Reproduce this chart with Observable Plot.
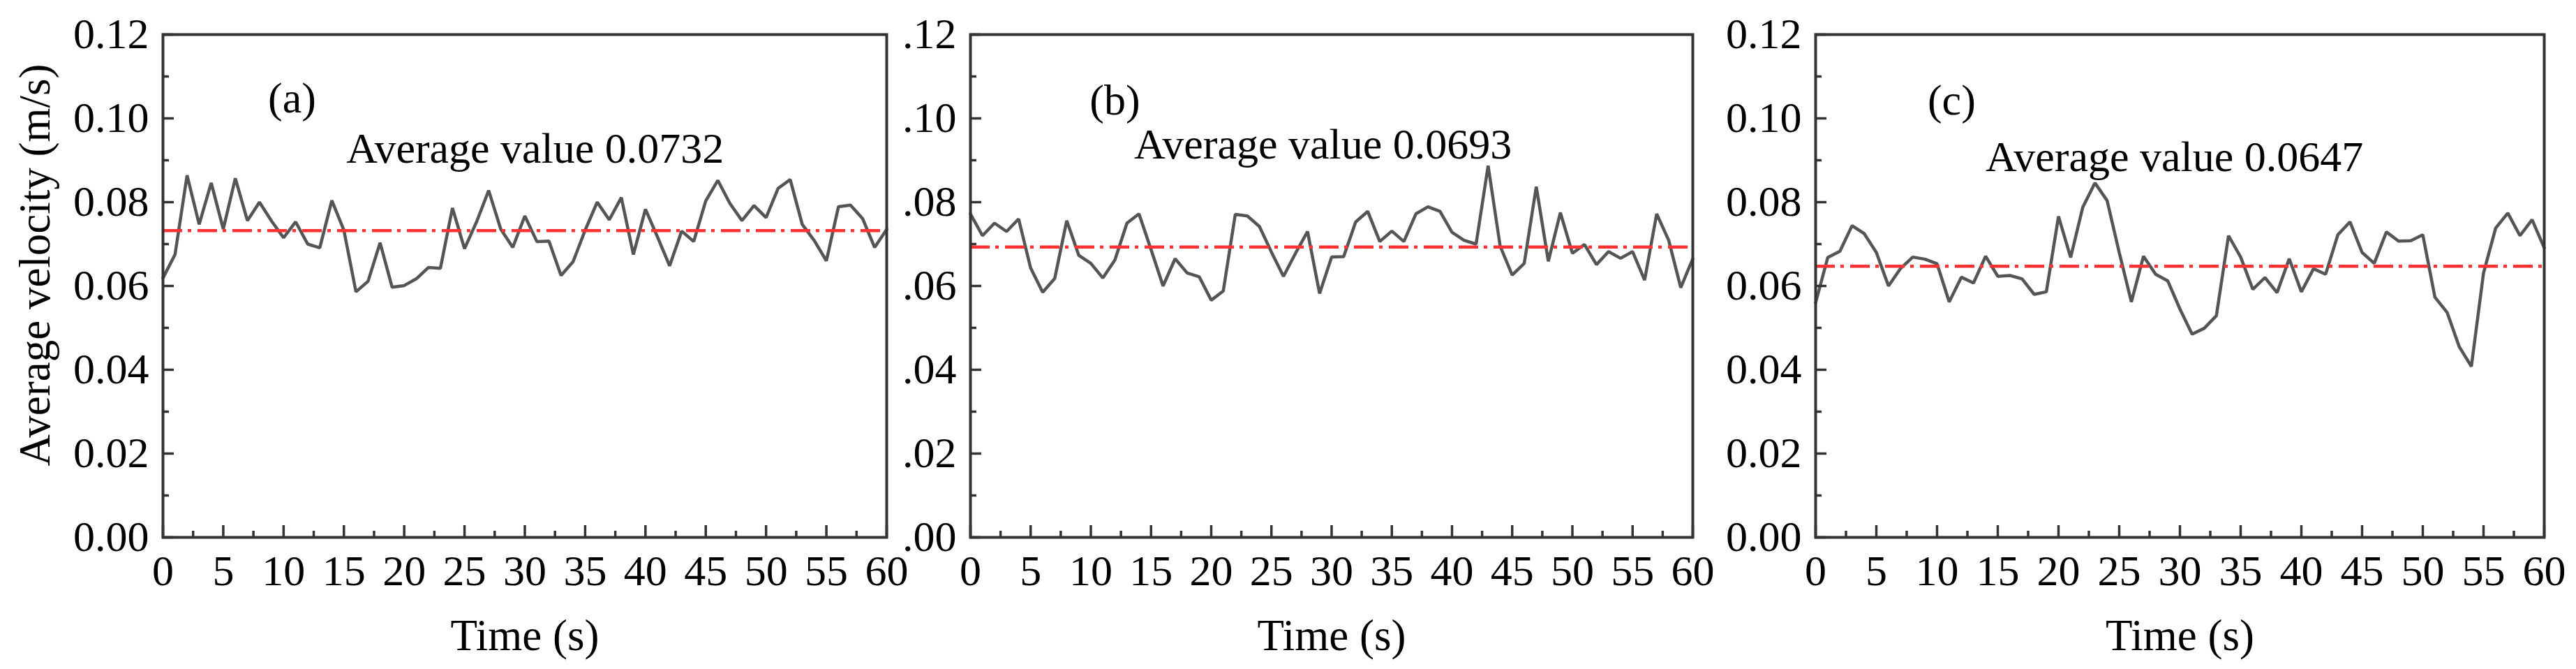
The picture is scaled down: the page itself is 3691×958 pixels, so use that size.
<!DOCTYPE html>
<html>
<head>
<meta charset="utf-8">
<script src="https://cdn.jsdelivr.net/npm/d3@7"></script>
<script src="https://cdn.jsdelivr.net/npm/@observablehq/plot@0.6"></script>
<style>
  body { margin: 0; background: #fff; }
  #wrap { position: relative; width: 3691px; height: 958px; overflow: hidden; background: #fff; }
  .panel { position: absolute; top: 0; }
</style>
</head>
<body>
<div id="wrap"></div>
<script>
// ---- data ----
const time = d3.range(0, 61); // seconds

const velA = [0.0619, 0.0675, 0.0864, 0.0747, 0.0846, 0.0736, 0.0857, 0.0756, 0.0800, 0.0755,
  0.0715, 0.0753, 0.0700, 0.0691, 0.0804, 0.0733, 0.0586, 0.0611, 0.0703, 0.0597,
  0.0601, 0.0617, 0.0644, 0.0642, 0.0786, 0.0689, 0.0753, 0.0828, 0.0736, 0.0692,
  0.0767, 0.0706, 0.0707, 0.0625, 0.0658, 0.0733, 0.0800, 0.0758, 0.0811, 0.0675,
  0.0783, 0.0717, 0.0648, 0.0731, 0.0706, 0.0803, 0.0852, 0.0797, 0.0756, 0.0792,
  0.0763, 0.0833, 0.0854, 0.0747, 0.0708, 0.0660, 0.0789, 0.0793, 0.0761, 0.0692, 0.0735];

const velB = [0.0772, 0.0720, 0.0750, 0.0730, 0.0760, 0.0643, 0.0585, 0.0618, 0.0756, 0.0673,
  0.0654, 0.0619, 0.0662, 0.0750, 0.0772, 0.0687, 0.0600, 0.0665, 0.0631, 0.0622,
  0.0566, 0.0588, 0.0771, 0.0767, 0.0742, 0.0681, 0.0623, 0.0678, 0.0730, 0.0582,
  0.0669, 0.0670, 0.0753, 0.0778, 0.0706, 0.0731, 0.0706, 0.0772, 0.0789, 0.0778,
  0.0728, 0.0709, 0.0700, 0.0887, 0.0695, 0.0626, 0.0654, 0.0837, 0.0659, 0.0775,
  0.0678, 0.0699, 0.0651, 0.0682, 0.0666, 0.0682, 0.0614, 0.0772, 0.0709, 0.0596, 0.0665];

const velC = [0.0560, 0.0668, 0.0683, 0.0744, 0.0725, 0.0680, 0.0600, 0.0642, 0.0669, 0.0664,
  0.0653, 0.0562, 0.0621, 0.0607, 0.0671, 0.0623, 0.0625, 0.0617, 0.0580, 0.0586,
  0.0766, 0.0668, 0.0788, 0.0846, 0.0804, 0.0680, 0.0562, 0.0671, 0.0628, 0.0612,
  0.0545, 0.0485, 0.0499, 0.0529, 0.0720, 0.0669, 0.0592, 0.0620, 0.0584, 0.0665,
  0.0586, 0.0641, 0.0628, 0.0722, 0.0753, 0.0680, 0.0654, 0.0729, 0.0707, 0.0708,
  0.0722, 0.0573, 0.0537, 0.0455, 0.0408, 0.0631, 0.0738, 0.0774, 0.0720, 0.0758, 0.0691];

const averages = [0.0732, 0.0693, 0.0647];
const panelTags = ["(a)", "(b)", "(c)"];
const avgLabels = ["Average value 0.0732", "Average value 0.0693", "Average value 0.0647"];

const xMajor = [0, 5, 10, 15, 20, 25, 30, 35, 40, 45, 50, 55, 60];
const xMinor = [2.5, 7.5, 12.5, 17.5, 22.5, 27.5, 32.5, 37.5, 42.5, 47.5, 52.5, 57.5];
const yMajor = [0, 0.02, 0.04, 0.06, 0.08, 0.10, 0.12];
const yMinor = [0.01, 0.03, 0.05, 0.07, 0.09, 0.11];

const xTitle = "Time (s)";
const yTitle = "Average velocity (m/s)";

// ---- layout ----
const H = 958, MT = 49, MB = 189;
const FONT = "'Liberation Serif', 'Times New Roman', serif";
const FS = 62;
const INK = "#333";

const panels = [
  { vel: velA, left: 0,    width: 1300, mLeft: 233, mRight: 30,
    tagAt: [10.7, 0.1048], avgAt: [15.2, 0.0927], fmt: d => d3.format(".2f")(d), showY: true },
  { vel: velB, left: 1290, width: 1160, mLeft: 100, mRight: 25,
    tagAt: [12.0, 0.1043], avgAt: [13.6, 0.0937], fmt: d => d3.format(".2f")(d).replace(/^0/, ""), showY: false },
  { vel: velC, left: 2450, width: 1241, mLeft: 151, mRight: 46,
    tagAt: [11.2, 0.1043], avgAt: [14.0, 0.0907], fmt: d => d3.format(".2f")(d), showY: false }
];

const wrap = document.getElementById("wrap");

panels.forEach((p, k) => {
  const fw = p.width - p.mLeft - p.mRight;
  const fh = H - MT - MB;
  const series = time.map((t, i) => ({ t, v: p.vel[i] }));

  const marks = [
    Plot.line(series, { x: "t", y: "v", stroke: "#555", strokeWidth: 4.5, strokeLinejoin: "miter" }),
    Plot.ruleY([averages[k]], { stroke: "#ff3333", strokeWidth: 4.5, strokeDasharray: "28,8,5,9" }),
    Plot.tickX(xMajor, { x: d => d, insetTop: fh - 17, stroke: INK, strokeWidth: 3.5 }),
    Plot.tickX(xMinor, { x: d => d, insetTop: fh - 9, stroke: INK, strokeWidth: 3.5 }),
    Plot.tickY(yMajor, { y: d => d, insetRight: fw - 16, stroke: INK, strokeWidth: 3.5 }),
    Plot.tickY(yMinor, { y: d => d, insetRight: fw - 9, stroke: INK, strokeWidth: 3.5 }),
    Plot.frame({ stroke: INK, strokeWidth: 4 }),
    Plot.axisX({ ticks: xMajor, tickSize: 0, tickPadding: 24, fontSize: FS, label: null, tickFormat: d => String(d) }),
    Plot.axisY({ ticks: yMajor, tickSize: 0, tickPadding: 20, fontSize: FS, label: null, tickFormat: p.fmt }),
    Plot.text([{ x: p.tagAt[0], y: p.tagAt[1], s: panelTags[k] }],
      { x: "x", y: "y", text: "s", fontSize: FS, textAnchor: "middle", lineAnchor: "middle" }),
    Plot.text([{ x: p.avgAt[0], y: p.avgAt[1], s: avgLabels[k] }],
      { x: "x", y: "y", text: "s", fontSize: FS, textAnchor: "start", lineAnchor: "middle" }),
    Plot.text([xTitle], { text: d => d, frameAnchor: "bottom", dy: 141, fontSize: 63, lineAnchor: "middle" })
  ];
  if (p.showY) {
    marks.push(Plot.text([yTitle], { text: d => d, frameAnchor: "left", dx: -183, dy: -30, rotate: -90,
      fontSize: 63, textAnchor: "middle", lineAnchor: "middle" }));
  }

  const chart = Plot.plot({
    width: p.width,
    height: H,
    marginLeft: p.mLeft,
    marginRight: p.mRight,
    marginTop: MT,
    marginBottom: MB,
    x: { domain: [0, 60] },
    y: { domain: [0, 0.12] },
    style: { fontFamily: FONT, fontSize: FS + "px", background: "transparent", overflow: "visible", maxWidth: "none", color: "#000" },
    marks
  });
  const div = document.createElement("div");
  div.className = "panel";
  div.style.left = p.left + "px";
  div.style.width = p.width + "px";
  div.appendChild(chart);
  wrap.appendChild(div);
});
</script>
</body>
</html>
